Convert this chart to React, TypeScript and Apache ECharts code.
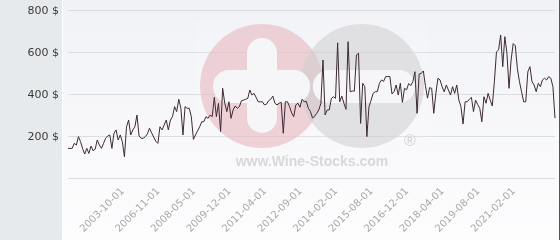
import React, { useEffect, useRef } from 'react';
import * as echarts from 'echarts';

const categories: string[] = `
2000-01-01 2000-03-01 2000-05-01 2000-07-01 2000-09-01 2000-11-01
2001-01-01 2001-03-01 2001-05-01 2001-07-01 2001-09-01 2001-11-01
2002-01-01 2002-03-01 2002-05-01 2002-06-01 2002-07-01 2002-08-01 2002-09-01 2002-10-01 2002-12-01
2003-02-01 2003-04-01 2003-05-01 2003-07-01 2003-08-01 2003-10-01 2003-12-01
2004-02-01 2004-04-01 2004-07-01 2004-09-01 2004-11-01
2005-01-01 2005-03-01 2005-06-01 2005-08-01 2005-10-01 2005-12-01
2006-02-01 2006-04-01 2006-07-01 2006-09-01 2006-11-01 2006-12-01
2007-01-01 2007-02-01 2007-03-01 2007-04-01 2007-05-01 2007-06-01 2007-07-01 2007-08-01 2007-09-01 2007-10-01 2007-11-01 2007-12-01
2008-01-01 2008-02-01 2008-03-01 2008-05-01 2008-06-01 2008-07-01 2008-08-01 2008-10-01 2008-11-01 2008-12-01
2009-01-01 2009-02-01 2009-03-01 2009-04-01 2009-05-01 2009-06-01 2009-07-01 2009-08-01 2009-09-01 2009-10-01 2009-12-01
2010-01-01 2010-02-01 2010-03-01 2010-04-01 2010-05-01 2010-06-01 2010-06-15 2010-07-01 2010-08-01 2010-09-01 2010-10-01 2010-11-01 2010-12-01
2011-01-01 2011-02-01 2011-03-01 2011-04-01 2011-05-01 2011-06-01 2011-07-01 2011-08-01 2011-09-01 2011-10-01 2011-11-01 2011-12-01
2012-01-01 2012-02-01 2012-03-01 2012-04-01 2012-05-01 2012-06-01 2012-07-01 2012-08-01 2012-09-01 2012-10-01 2012-11-01 2012-12-01
2013-01-01 2013-02-01 2013-03-01 2013-04-01 2013-05-01 2013-06-01 2013-07-01 2013-08-01 2013-09-01 2013-10-01 2013-11-01 2013-12-01
2014-01-01 2014-02-01 2014-03-01 2014-04-01 2014-05-01 2014-06-01 2014-07-01 2014-08-01 2014-09-01 2014-10-01 2014-11-01 2014-12-01
2015-01-01 2015-02-01 2015-03-01 2015-04-01 2015-05-01 2015-06-01 2015-08-01 2015-09-01 2015-10-01 2015-11-01 2015-12-01
2016-01-01 2016-02-01 2016-03-01 2016-04-01 2016-05-01 2016-06-01 2016-06-15 2016-07-01 2016-08-01 2016-09-01 2016-10-01 2016-11-01 2016-12-01
2017-01-01 2017-02-01 2017-03-01 2017-04-01 2017-05-01 2017-06-01 2017-07-01 2017-08-01 2017-09-01 2017-10-01 2017-11-01 2017-12-01
2018-01-01 2018-02-01 2018-03-01 2018-03-15 2018-04-01 2018-05-01 2018-06-01 2018-07-01 2018-08-01 2018-09-01 2018-10-01 2018-11-01 2018-12-01
2019-01-01 2019-02-01 2019-03-01 2019-04-01 2019-05-01 2019-06-01 2019-07-01 2019-07-15 2019-08-01 2019-09-01 2019-10-01 2019-11-01 2019-12-01
2020-01-01 2020-02-01 2020-03-01 2020-04-01 2020-05-01 2020-06-01 2020-07-01 2020-08-01 2020-09-01 2020-10-01 2020-11-01 2020-12-01
2021-02-01 2021-03-01 2021-04-01 2021-05-01 2021-06-01 2021-07-01 2021-08-01 2021-09-01 2021-10-01 2021-11-01 2021-12-01
2022-01-01 2022-02-01 2022-03-01 2022-04-01 2022-05-01 2022-06-01 2022-07-01 2022-08-01 2022-09-01 2022-10-01
`.trim().split(/\s+/);

const prices: number[] = [
  141, 141, 141, 165, 157, 197, 173, 140, 114, 141,
  117, 152, 130, 137, 181, 157, 141, 165, 189, 200,
  205, 141, 213, 229, 181, 205, 173, 101, 244, 276,
  205, 229, 244, 300, 200, 189, 189, 197, 210, 237,
  215, 195, 175, 165, 244, 229, 252, 276, 229, 276,
  292, 340, 316, 375, 332, 205, 340, 332, 332, 292,
  184, 205, 225, 244, 268, 268, 292, 284, 300, 292,
  384, 292, 356, 221, 427, 356, 316, 363, 284, 324,
  343, 332, 340, 368, 371, 375, 379, 419, 395, 403,
  384, 363, 363, 363, 348, 352, 368, 375, 390, 356,
  348, 356, 360, 213, 363, 363, 340, 310, 292, 348,
  356, 337, 375, 363, 365, 332, 316, 285, 295, 308,
  324, 356, 562, 300, 324, 324, 379, 387, 379, 644,
  363, 390, 356, 327, 649, 411, 414, 414, 586, 594,
  260, 451, 435, 197, 340, 370, 403, 411, 411, 451,
  467, 460, 483, 483, 483, 400, 411, 443, 395, 451,
  360, 427, 420, 450, 440, 459, 506, 308, 495, 498,
  510, 440, 380, 430, 427, 308, 403, 475, 467, 435,
  410, 443, 419, 395, 435, 403, 443, 371, 340, 257,
  363, 363, 375, 384, 316, 371, 350, 332, 268, 387,
  356, 403, 371, 343, 459, 601, 610, 681, 530, 673,
  594, 427, 562, 640, 630, 520, 459, 411, 363, 363,
  506, 530, 459, 443, 411, 451, 435, 467, 475, 467,
  483, 475, 435, 285,
];

const tickLabels: string[] = [
  '2003-10-01', '2006-11-01', '2008-05-01', '2009-12-01', '2011-04-01', '2012-09-01',
  '2014-02-01', '2015-08-01', '2016-12-01', '2018-04-01', '2019-08-01', '2021-02-01',
];

const yMin = 0;
const yMax = 800;
const yStep = 200;
const currency = '$';

export default function App() {
  const ref = useRef<HTMLDivElement>(null);
  useEffect(() => {
    if (!ref.current) return;
    const chart = echarts.init(ref.current, null, { renderer: 'svg' });
    chart.setOption({
      animation: false,
      grid: { left: 68, right: 5, top: 10, bottom: 62 },
      xAxis: {
        type: 'category',
        data: categories,
        boundaryGap: false,
        axisLine: { show: false },
        axisTick: { show: false },
        splitLine: { show: false },
        axisLabel: {
          interval: (_i: number, v: string) => tickLabels.includes(v),
          rotate: 45,
          color: '#a8a8a8',
          fontSize: 10,
          fontFamily: 'DejaVu Sans',
          margin: 11,
        },
      },
      yAxis: {
        type: 'value',
        min: yMin,
        max: yMax,
        interval: yStep,
        axisLine: { show: false },
        axisTick: { show: false },
        splitLine: { lineStyle: { color: '#dcdde3', width: 1 } },
        axisLabel: {
          formatter: (v: number) => (v === 0 ? '' : `${v} ${currency}`),
          color: '#3a3a3a',
          fontSize: 11,
          fontFamily: 'DejaVu Sans',
          margin: 9,
        },
      },
      graphic: [
        { type: 'rect', z: -10, silent: true, shape: { x: 0, y: 0, width: 62, height: 240 }, style: { fill: '#e7eaed' } },
        {
          type: 'rect', z: -10, silent: true, shape: { x: 63, y: 0, width: 496, height: 240 },
          style: {
            fill: new echarts.graphic.LinearGradient(0, 0, 0, 1, [
              { offset: 0, color: '#f1f2f6' },
              { offset: 1, color: '#fdfdfe' },
            ]),
          },
        },
        { type: 'rect', z: -10, silent: true, shape: { x: 559, y: 0, width: 1, height: 240 }, style: { fill: '#555555' } },
        { type: 'rect', z: 1, silent: true, shape: { x: 195, y: 20, width: 233, height: 157 }, style: { fill: 'rgba(255,255,255,0.12)' } },
        { type: 'circle', z: 1, silent: true, shape: { cx: 262, cy: 86, r: 62 }, style: { fill: 'rgba(230,183,192,0.6)' } },
        { type: 'circle', z: 1, silent: true, shape: { cx: 362, cy: 86, r: 62 }, style: { fill: 'rgba(205,205,207,0.55)' } },
        { type: 'rect', z: 1, silent: true, shape: { x: 247, y: 38, width: 30, height: 95, r: 15 }, style: { fill: '#f6f6f9' } },
        { type: 'rect', z: 1, silent: true, shape: { x: 213, y: 70, width: 97, height: 33, r: 16 }, style: { fill: '#f6f6f9' } },
        { type: 'rect', z: 1, silent: true, shape: { x: 313, y: 70, width: 102, height: 33, r: 16 }, style: { fill: '#f6f6f9' } },
        {
          type: 'text', z: 1, silent: true, x: 312, y: 161,
          style: { text: 'www.Wine-Stocks.com', fill: '#d8d8d8', font: 'bold 14px "Liberation Sans"', textAlign: 'center', textVerticalAlign: 'middle' },
        },
        {
          type: 'text', z: 1, silent: true, x: 410, y: 140,
          style: { text: '®', fill: '#d2d2d2', font: '16px "Liberation Sans"', textAlign: 'center', textVerticalAlign: 'middle' },
        },
      ],
      series: [
        {
          type: 'line',
          data: prices,
          symbol: 'none',
          z: 5,
          lineStyle: { color: '#3e2a33', width: 1 },
        },
      ],
    });
    return () => chart.dispose();
  }, []);
  return <div ref={ref} style={{ position: 'fixed', left: 0, top: 0, width: 560, height: 240 }} />;
}
